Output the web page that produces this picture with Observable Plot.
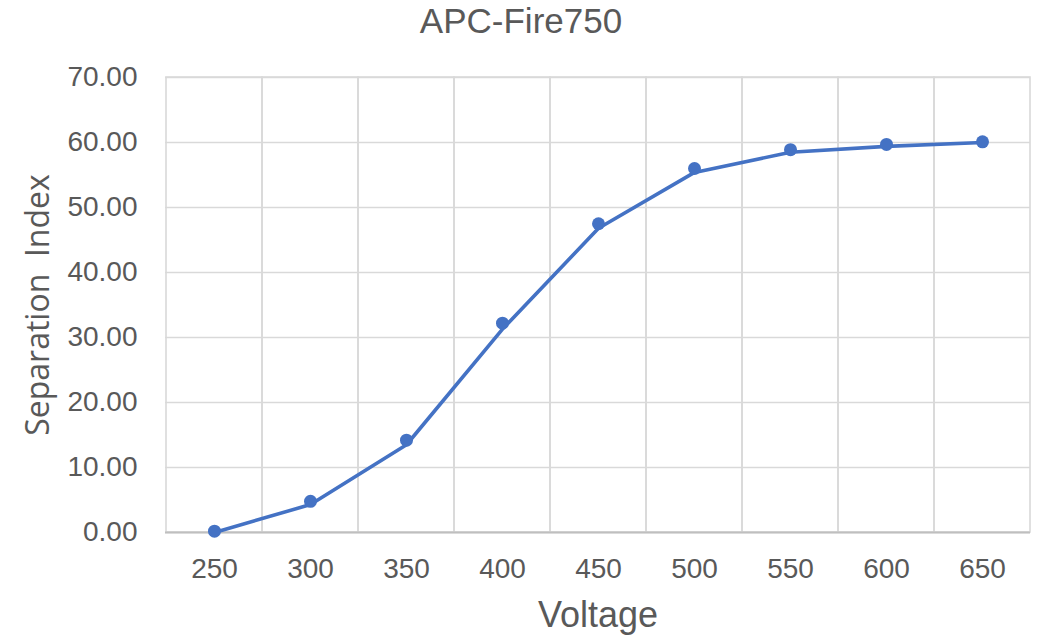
<!DOCTYPE html>
<html>
<head>
<meta charset="utf-8">
<script src="https://cdn.jsdelivr.net/npm/d3@7"></script>
<script src="https://cdn.jsdelivr.net/npm/@observablehq/plot@0.6"></script>
<style>
  html, body { margin: 0; padding: 0; background: #fff; }
</style>
</head>
<body>
<div id="chart"></div>
<script>
const voltages = ["250", "300", "350", "400", "450", "500", "550", "600", "650"];
const markerValues = [0.2, 4.8, 14.2, 32.2, 47.5, 56.0, 58.9, 59.7, 60.1];
const lineValues = [0.0, 4.3, 13.5, 31.3, 46.8, 55.4, 58.5, 59.4, 60.0];
const yTicks = [0, 10, 20, 30, 40, 50, 60, 70];
const titleText = "APC-Fire750";
const xLabel = "Voltage";
const yLabel = "Separation\u00a0 Index";

const markers = voltages.map((v, i) => ({v, y: markerValues[i]}));
const lineData = voltages.map((v, i) => ({v, y: lineValues[i]}));

const W = 1041, H = 637;
const mL = 165, mR = 11, mT = 77, mB = 105;
const frameCenterX = mL + (W - mL - mR) / 2;
const textColor = "#595959";
const blue = "#4472C4";
const grid = "#d9d9d9";

const chart = Plot.plot({
  width: W,
  height: H,
  marginLeft: mL,
  marginRight: mR,
  marginTop: mT,
  marginBottom: mB,
  style: {fontFamily: "'Liberation Sans', Arial, sans-serif", background: "#fff"},
  x: {type: "band", domain: voltages, padding: 0},
  y: {domain: [0, 70]},
  marks: [
    Plot.gridY(yTicks, {stroke: grid, strokeOpacity: 1, strokeWidth: 1.6}),
    Plot.barY(voltages, {x: d => d, y1: 0, y2: 70, fill: "none", stroke: grid, strokeWidth: 1.6}),
    Plot.ruleY([0], {stroke: "#bfbfbf", strokeWidth: 1.8}),
    Plot.axisY(yTicks, {
      tickSize: 0, tickPadding: 28, tickFormat: d3.format(".2f"),
      fontSize: 28, fill: textColor, label: null, line: true, stroke: "#bfbfbf", strokeWidth: 1.8
    }),
    Plot.axisX({
      tickSize: 0, tickPadding: 26, fontSize: 28, fill: textColor, label: null
    }),
    Plot.line(lineData, {x: "v", y: "y", stroke: blue, strokeWidth: 3.6, strokeLinejoin: "round"}),
    Plot.dot(markers, {x: "v", y: "y", r: 6.5, fill: blue, stroke: "none"}),
    Plot.text([titleText], {
      text: d => d, frameAnchor: "top", lineAnchor: "middle", textAnchor: "middle",
      dx: W / 2 - frameCenterX, dy: -56,
      fontSize: 35, fill: textColor
    }),
    Plot.text([xLabel], {
      text: d => d, frameAnchor: "bottom", lineAnchor: "middle", textAnchor: "middle",
      dy: 83, fontSize: 36, fill: textColor
    }),
    Plot.text([yLabel], {
      text: d => d, frameAnchor: "left", lineAnchor: "middle", textAnchor: "middle",
      dx: -127, rotate: -90,
      fontSize: 32, fill: textColor, fontFamily: "'Open Sans', sans-serif"
    })
  ]
});
document.getElementById("chart").appendChild(chart);
</script>
</body>
</html>
